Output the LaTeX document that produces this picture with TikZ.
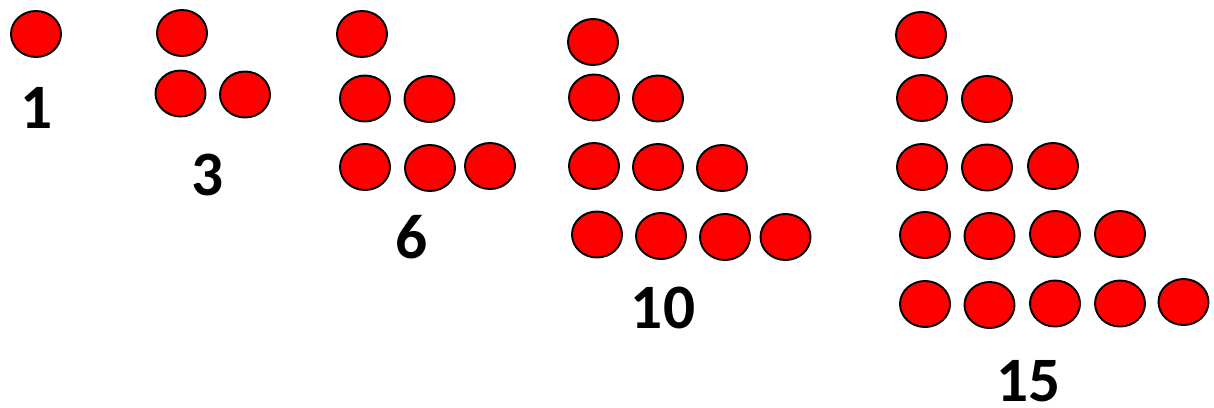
\documentclass[tikz,border=0pt]{standalone}
\usepackage{fontspec}
\usetikzlibrary{shapes.geometric}
\newfontfamily\numfont{Carlito}
\tikzset{
  ball/.style={ellipse,draw,line width=1.1pt,fill=red,minimum width=10mm,minimum height=9.2mm,inner sep=0pt},
  numlab/.style={inner sep=0pt,font=\numfont\bfseries\fontsize{36}{40}\selectfont},
}
\begin{document}
\begin{tikzpicture}[x=0.2mm,y=-0.2mm]
\useasboundingbox (0,0) rectangle (1214,407);
%% triangular numbers, one group per number; positions in pixels of the page
% 1
\node[ball] (a1) at (36,34) {};
\node[numlab] (n1) at (37,108) {1};
% 3
\foreach \n/\X/\Y in {1/182/33,2/180.5/93.5,3/245/94.5}
  \node[ball] (b\n) at (\X,\Y) {};
\node[numlab] (n3) at (208,175) {3};
% 6
\foreach \n/\X/\Y in {1/362/34,2/365/98.5,3/429.5/99,4/365/167,5/430/168,6/490/166}
  \node[ball] (c\n) at (\X,\Y) {};
\node[numlab] (n6) at (412,237) {6};
% 10
\foreach \n/\X/\Y in {1/593/42,2/594/97.5,3/658/98.5,4/594/166,5/658/167,6/722/168,
                      7/597/234.5,8/661/236,9/725/237,10/785.5/237}
  \node[ball] (d\n) at (\X,\Y) {};
\node[numlab] (n10) at (663,308) {10};
% 15
\foreach \n/\X/\Y in {1/921/35,2/922/98,3/987/99,4/922/167,5/987/167.5,6/1053/166,
                      7/925/235,8/989.5/236,9/1055/234,10/1120/234,
                      11/925/304,12/989.5/305,13/1055/303.5,14/1120/303.5,15/1183.5/302}
  \node[ball] (e\n) at (\X,\Y) {};
\node[numlab] (n15) at (1028.5,381) {15};
\end{tikzpicture}
\end{document}
